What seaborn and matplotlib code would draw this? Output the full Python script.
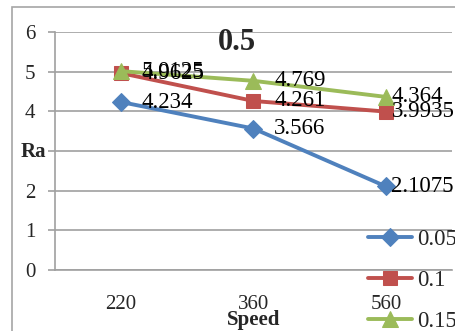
import matplotlib
matplotlib.use("Agg")
import matplotlib.pyplot as plt
import matplotlib.patches as mpatches
import seaborn as sns
import pandas as pd

speeds = ["220", "360", "560"]
series_names = ["0.05", "0.1", "0.15"]
ra_005 = [4.234, 3.566, 2.1075]
ra_010 = [4.9625, 4.261, 3.9935]
ra_015 = [5.0125, 4.769, 4.364]
label_005 = ["4.234", "3.566", "2.1075"]
label_010 = ["4.9625", "4.261", "3.9935"]
label_015 = ["5.0125", "4.769", "4.364"]

colors = ["#4F81BD", "#C0504D", "#9BBB59"]
markers = ["D", "s", "^"]
msizes = [9, 10.5, 11]

sns.set_style("white")
plt.rcParams["font.family"] = ["Liberation Serif", "DejaVu Serif"]

fig = plt.figure(figsize=(4.56, 3.31), dpi=100)
ax = fig.add_axes([55 / 456, 61 / 331, 397 / 456, 238 / 331])

# outer chart border
fig.patches.append(mpatches.Rectangle((12 / 456, -0.1), 1.2, (331 - 7) / 331 + 0.1,
                                      transform=fig.transFigure, fill=False,
                                      edgecolor="#A6A6A6", linewidth=1.2, zorder=0))

rows = []
for name, vals in zip(series_names, [ra_005, ra_010, ra_015]):
    for i, v in enumerate(vals):
        rows.append({"pos": i, "Ra": v, "series": name})
df = pd.DataFrame(rows)

for k, name in enumerate(series_names):
    sub = df[df["series"] == name]
    sns.lineplot(data=sub, x="pos", y="Ra", ax=ax, color=colors[k], marker=markers[k],
                 markersize=msizes[k], markeredgecolor=colors[k], linewidth=2.8,
                 label=name, zorder=3 + k)

for vals, labels in zip([ra_005, ra_010, ra_015], [label_005, label_010, label_015]):
    for i, (v, t) in enumerate(zip(vals, labels)):
        dx = 15 if i < 2 else 4
        ax.annotate(t, (i, v), xytext=(dx, 0), textcoords="offset points",
                    va="center", ha="left", fontsize=16.5, color="black", zorder=10)

ax.set_xlim(-0.5, 2.5)
ax.set_ylim(0, 6)
ax.set_yticks(range(0, 7))
ax.set_yticklabels([str(v) for v in range(0, 7)], fontsize=15)
ax.set_xticks(range(3))
ax.set_xticklabels(speeds, fontsize=15)
ax.set_xticks([-0.5, 0.5, 1.5, 2.5], minor=True)
ax.tick_params(axis="x", which="major", length=0, pad=18)
ax.tick_params(axis="x", which="minor", length=5, width=1.2, color="#A0A0A0", direction="out")
ax.tick_params(axis="y", length=5, width=1.2, color="#A0A0A0", direction="out", pad=9, left=True)

ax.grid(axis="y", color="#A0A0A0", linewidth=1.2)
ax.grid(axis="x", visible=False)
for s in ["top", "right"]:
    ax.spines[s].set_visible(False)
for s in ["left", "bottom"]:
    ax.spines[s].set_color("#A0A0A0")
    ax.spines[s].set_linewidth(1.2)

ax.set_xlabel("")
ax.set_ylabel("")
fig.text(33 / 456, 1 - 152 / 331, "Ra", fontsize=15, fontweight="bold", ha="center", va="center",
         bbox=dict(facecolor="white", edgecolor="none", pad=0.5), zorder=20)
fig.text(254 / 456, 1 - 320 / 331, "Speed", fontsize=15, fontweight="bold", ha="center", va="center")
fig.text(237 / 456, 1 - 42 / 331, "0.5", fontsize=22, fontweight="bold", ha="center", va="center")

ax.get_legend().remove()
handles, labels = ax.get_legend_handles_labels()
fig.legend(handles, labels, loc="upper left", bbox_to_anchor=(368 / 456, 1 - 229 / 331),
           frameon=False, fontsize=16.5, handlelength=1.9, handletextpad=0.25,
           labelspacing=0.88, borderaxespad=0, borderpad=0)

fig.savefig("out.png", dpi=100)
